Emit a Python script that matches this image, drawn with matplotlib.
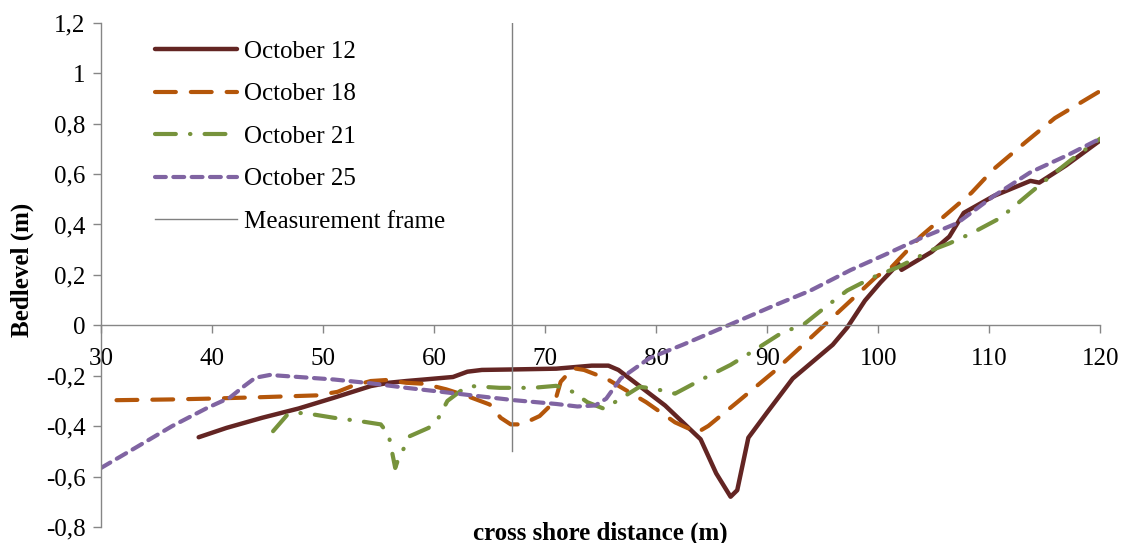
import matplotlib
matplotlib.use('Agg')
import matplotlib.pyplot as plt
from matplotlib.ticker import FuncFormatter

# Datos (distancia en m, nivel del lecho en m)
oct12_x = [38.8, 41.3, 44.5, 47.8, 51.0, 54.3, 55.9, 57.5, 59.1, 61.7, 63.0, 64.3, 67.2, 71.0,
           74.2, 75.7, 76.6, 80.8, 84.0, 85.4, 86.7, 87.3, 88.3, 90.0, 92.3, 95.9, 97.2, 98.8,
           100.2, 101.8, 102.1, 104.8, 106.4, 107.7, 110.4, 113.7, 114.5, 116.9, 120.0]
oct12_y = [-0.444, -0.407, -0.367, -0.330, -0.287, -0.241, -0.228, -0.221, -0.215, -0.205, -0.184,
           -0.177, -0.175, -0.172, -0.160, -0.160, -0.177, -0.318, -0.452, -0.587, -0.680, -0.654,
           -0.446, -0.345, -0.211, -0.077, -0.009, 0.098, 0.170, 0.244, 0.220, 0.291, 0.352, 0.446,
           0.513, 0.573, 0.566, 0.634, 0.734]

oct18_x = [31.4, 36.4, 39.6, 44.5, 49.4, 51.3, 52.6, 54.3, 55.7, 57.5, 59.1, 61.1, 63.0, 65.0,
           66.0, 66.9, 67.9, 69.5, 70.9, 71.4, 72.5, 73.5, 75.5, 79.1, 81.7, 83.7, 84.7, 87.3,
           90.6, 93.9, 97.2, 99.8, 101.2, 103.8, 108.4, 110.4, 113.3, 115.9, 120.0]
oct18_y = [-0.297, -0.294, -0.291, -0.285, -0.278, -0.264, -0.241, -0.221, -0.217, -0.228, -0.232,
           -0.254, -0.281, -0.314, -0.367, -0.393, -0.393, -0.360, -0.300, -0.224, -0.170, -0.177,
           -0.211, -0.305, -0.385, -0.425, -0.399, -0.305, -0.184, -0.050, 0.085, 0.192, 0.231,
           0.352, 0.526, 0.620, 0.728, 0.822, 0.930]

oct21_x = [45.5, 46.8, 48.2, 51.0, 53.3, 55.2, 55.9, 56.5, 56.7, 57.8, 59.5, 60.4, 61.2, 62.4,
           63.3, 65.9, 68.9, 71.0, 72.5, 73.8, 75.3, 76.8, 78.5, 79.8, 81.7, 84.0, 86.7, 88.7,
           91.3, 93.3, 95.2, 97.2, 99.5, 101.8, 104.8, 106.4, 108.4, 111.0, 113.7, 115.0, 117.3,
           120.0]
oct21_y = [-0.420, -0.354, -0.347, -0.367, -0.380, -0.393, -0.433, -0.566, -0.540, -0.440, -0.407,
           -0.367, -0.300, -0.260, -0.241, -0.248, -0.248, -0.240, -0.264, -0.305, -0.331, -0.291,
           -0.244, -0.251, -0.271, -0.217, -0.157, -0.103, -0.030, 0.004, 0.071, 0.138, 0.190,
           0.231, 0.298, 0.325, 0.365, 0.426, 0.526, 0.573, 0.654, 0.741]

oct25_x = [30.0, 33.1, 36.4, 39.6, 41.6, 42.9, 43.9, 45.2, 47.8, 51.0, 54.3, 57.5, 60.7, 64.0,
           67.2, 71.0, 72.9, 74.5, 75.5, 76.8, 79.4, 82.4, 86.7, 90.6, 93.9, 97.5, 100.5, 103.8,
           107.1, 110.4, 113.7, 117.0, 120.0]
oct25_y = [-0.566, -0.486, -0.400, -0.327, -0.287, -0.241, -0.208, -0.197, -0.205, -0.215, -0.230,
           -0.248, -0.264, -0.281, -0.297, -0.312, -0.322, -0.318, -0.291, -0.211, -0.130, -0.077,
           0.004, 0.078, 0.138, 0.219, 0.278, 0.345, 0.405, 0.513, 0.607, 0.674, 0.741]

frame_x = 67.0
frame_y = [-0.5, 1.2]

x_ticks = [30, 40, 50, 60, 70, 80, 90, 100, 110, 120]
y_ticks = [-0.8, -0.6, -0.4, -0.2, 0, 0.2, 0.4, 0.6, 0.8, 1.0, 1.2]

plt.rcParams['font.family'] = ['Liberation Serif', 'DejaVu Serif']

fig = plt.figure(figsize=(11.28, 5.43), dpi=100)
ax = fig.add_axes([0.0895, 0.0295, 0.886, 0.9285])

lw = 3.0
ax.plot(oct12_x, oct12_y, color='#632523', lw=3.2, solid_capstyle='round',
        solid_joinstyle='round', label='October 12')
ax.plot(oct18_x, oct18_y, color='#B4560A', lw=lw, dashes=(5.0, 3.6),
        dash_capstyle='round', label='October 18')
ax.plot(oct21_x, oct21_y, color='#77933C', lw=lw, dashes=(5.0, 3.4, 0.1, 3.4),
        dash_capstyle='round', label='October 21')
ax.plot(oct25_x, oct25_y, color='#8064A2', lw=lw, dashes=(2.6, 1.8),
        dash_capstyle='round', label='October 25')
ax.plot([frame_x, frame_x], frame_y, color='#808080', lw=1.0, label='Measurement frame')

ax.set_xlim(30, 120)
ax.set_ylim(-0.8, 1.2)
ax.set_xticks(x_ticks)
ax.set_yticks(y_ticks)

fmt = FuncFormatter(lambda v, p: ('%g' % round(v, 2)).replace('.', ','))
ax.yaxis.set_major_formatter(fmt)

for s in ['top', 'right']:
    ax.spines[s].set_visible(False)
ax.spines['bottom'].set_position(('data', 0))
for s in ['left', 'bottom']:
    ax.spines[s].set_color('#868686')
    ax.spines[s].set_linewidth(1.0)

ax.tick_params(axis='both', colors='#868686', labelcolor='black', labelsize=18,
               length=6, width=1.0, direction='out')
ax.tick_params(axis='x', pad=10)
ax.tick_params(axis='y', pad=5)

ax.set_xlabel('cross shore distance (m)', fontsize=18, fontweight='bold')
ax.xaxis.set_label_coords(0.5, -0.012)
ax.xaxis.label.set_va('center')
ax.set_ylabel('Bedlevel (m)', fontsize=18, fontweight='bold')
ax.yaxis.set_label_coords(-0.079, 0.51)
ax.yaxis.label.set_va('center')

ax.legend(loc='upper left', bbox_to_anchor=(0.054, 0.965), frameon=False, fontsize=18,
          handlelength=3.3, handletextpad=0.25, labelspacing=0.8, borderpad=0,
          borderaxespad=0)

plt.savefig('out.png', dpi=100)
